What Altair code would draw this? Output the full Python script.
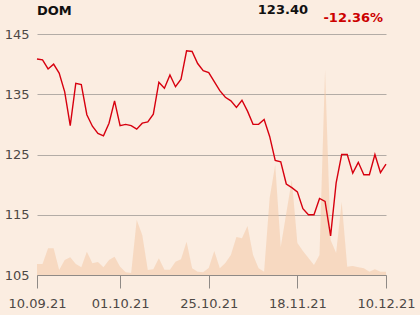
import json
import altair as alt
import pandas as pd

ticker = "DOM"
last_price = "123.40"
change = "-12.36%"

price = [140.85, 140.7, 139.2, 140.0, 138.5, 135.4, 129.8, 136.8, 136.6, 131.6,
         129.7, 128.5, 128.1, 130.2, 133.9, 129.8, 130.0, 129.8, 129.2, 130.2,
         130.4, 131.7, 137.0, 136.0, 138.2, 136.25, 137.5, 142.2, 142.1, 140.1,
         138.9, 138.6, 137.1, 135.6, 134.5, 133.9, 132.8, 134.0, 132.2, 130.0,
         130.0, 130.8, 128.0, 124.0, 123.8, 120.1, 119.5, 118.8, 116.0, 115.0,
         115.0, 117.7, 117.2, 111.5, 120.3, 125.0, 125.0, 121.9, 123.7, 121.65,
         121.65, 125.0, 122.0, 123.4]

volume = [11, 11, 26.7, 26.7, 5, 15, 17.7, 11, 7.7, 23.3,
          11.7, 13, 7.7, 15, 18.3, 8.3, 2.7, 2, 55, 40,
          5, 5.7, 16.7, 5.3, 5.3, 13.3, 15.7, 33.3, 6.7, 3.3,
          2.7, 7, 24, 6.7, 12, 20, 38, 36.7, 49, 20,
          6.7, 3.3, 77, 110, 28, 61.7, 95, 32, 24, 17,
          10, 20, 205, 35, 22, 73, 8.3, 9, 7.7, 6.7,
          3.3, 5.7, 3.3, 3.3]

tick_idx = [0, 15, 31, 47, 63]
tick_labels = ["10.09.21", "01.10.21", "25.10.21", "18.11.21", "10.12.21"]
y_ticks = [105, 115, 125, 135, 145]

df = pd.DataFrame({"i": list(range(len(price))), "price": price, "volume": volume})

label_map = json.dumps({str(k): v for k, v in zip(tick_idx, tick_labels)})

FONT = "DejaVu Sans"
GRID = "#b3aca6"
LABEL = "#4d4845"

x_enc = alt.X("i:Q", scale=alt.Scale(domain=[0, len(price) - 1], nice=False, zero=False),
              axis=alt.Axis(values=tick_idx, labelExpr=f"{label_map}[datum.value]",
                            title=None, grid=False, domain=True, domainColor="#8f8a86",
                            ticks=True, tickColor="#8f8a86", tickSize=13, labelPadding=9,
                            labelFontSize=13, labelColor=LABEL, labelFont=FONT,
                            labelFlush=False, labelOverlap=False))

area = alt.Chart(df).mark_area(color="#F3C6A2", opacity=0.5, interpolate="linear").encode(
    x=x_enc,
    y=alt.Y("volume:Q", scale=alt.Scale(domain=[0, 241], nice=False), axis=None),
)

line = alt.Chart(df).mark_line(color="#d7000f", strokeWidth=1.4).encode(
    x=alt.X("i:Q"),
    y=alt.Y("price:Q", scale=alt.Scale(domain=[105, 145], nice=False, zero=False),
            axis=alt.Axis(values=y_ticks, orient="left", title=None, grid=True,
                          gridColor=GRID, gridWidth=1, domain=False, ticks=False,
                          labelPadding=8, labelFontSize=13, labelColor=LABEL,
                          labelFont=FONT)),
)

t_name = alt.Chart(pd.DataFrame({"t": [ticker]})).mark_text(
    align="left", baseline="alphabetic", fontSize=13, fontWeight="bold", font=FONT,
    color="#111111").encode(x=alt.value(0), y=alt.value(-19), text="t:N")

t_price = alt.Chart(pd.DataFrame({"t": [last_price]})).mark_text(
    align="right", baseline="alphabetic", fontSize=13, fontWeight="bold", font=FONT,
    color="#111111").encode(x=alt.value(271), y=alt.value(-20), text="t:N")

t_change = alt.Chart(pd.DataFrame({"t": [change]})).mark_text(
    align="right", baseline="alphabetic", fontSize=13, fontWeight="bold", font=FONT,
    color="#cc0000").encode(x=alt.value(346), y=alt.value(-12), text="t:N")

chart = alt.layer(area, line, t_name, t_price, t_change).resolve_scale(
    y="independent"
).properties(
    width=349, height=241,
    autosize=alt.AutoSizeParams(type="none"),
    padding={"left": 37, "top": 34, "right": 34, "bottom": 40},
    background="#fbede1",
).configure_view(stroke=None)

chart.save("out.html", embed_options={"renderer": "svg", "actions": False})
